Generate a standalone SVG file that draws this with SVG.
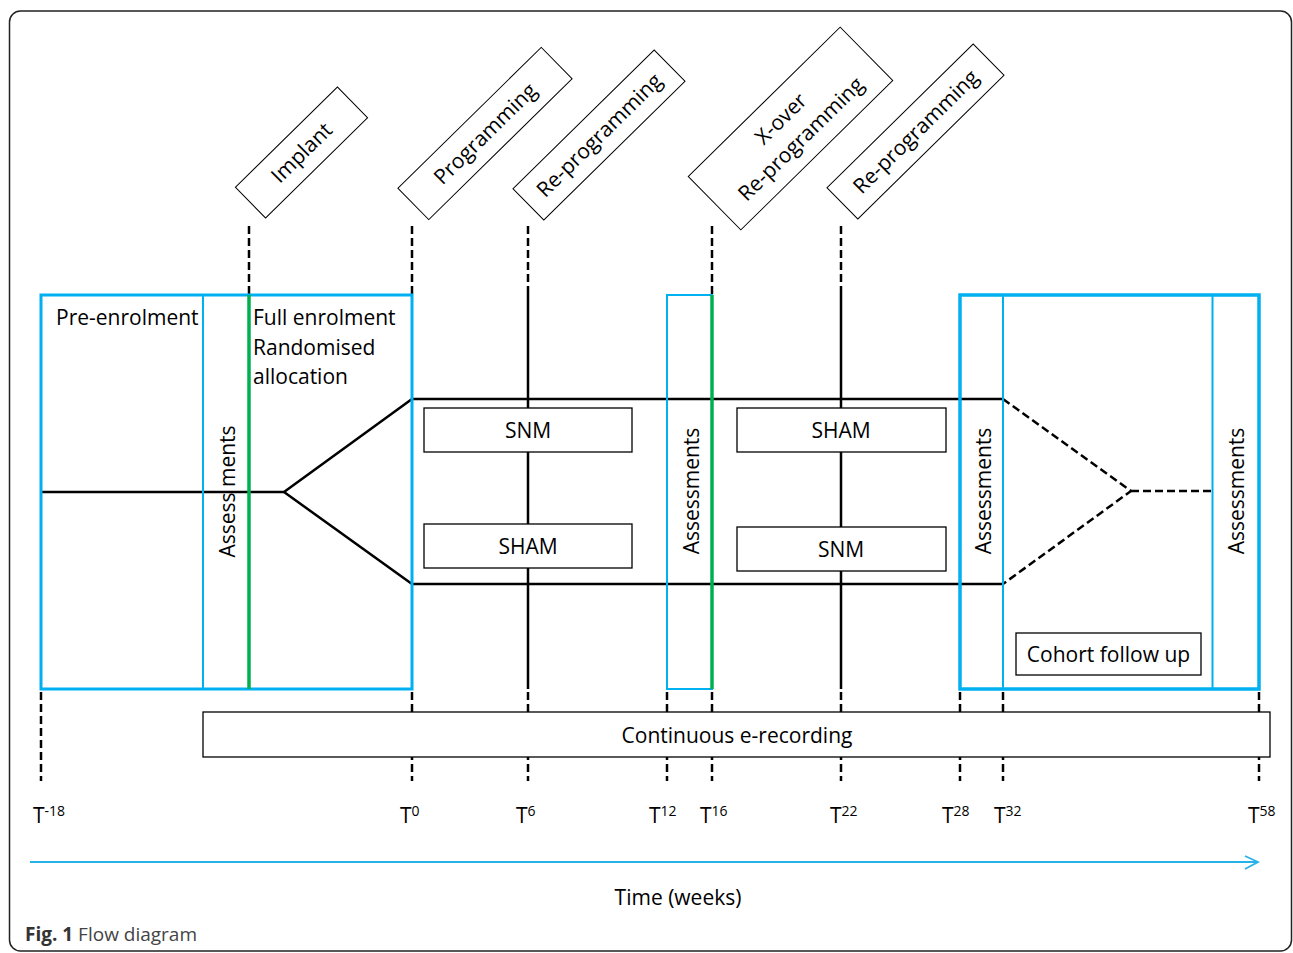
<svg xmlns="http://www.w3.org/2000/svg" width="1293" height="953" viewBox="0 0 1293 953">
<style>
text{font-family:"Open Sans","Liberation Sans",sans-serif;font-size:21px;fill:#000}
.mid{text-anchor:middle}
.dash{stroke:#000;stroke-width:2.5;stroke-dasharray:8 4;fill:none}
.solid{stroke:#000;stroke-width:2.5;fill:none}
.blue{stroke:#00b0f0;fill:none}
.green{stroke:#00b050;stroke-width:3.5}
.box{fill:#fff;stroke:#000;stroke-width:1.3}
.tag{fill:#fff;stroke:#000;stroke-width:1}
.sup{font-size:14px}
</style>
<rect x="9.5" y="11" width="1282" height="940" rx="11" fill="#fff" stroke="#222" stroke-width="1.5"/>
<g id="connectors">
<line class="dash" x1="249" y1="226" x2="249" y2="295"/>
<line class="dash" x1="412" y1="226" x2="412" y2="295"/>
<line class="dash" x1="528" y1="226" x2="528" y2="286"/>
<line class="solid" x1="528" y1="286" x2="528" y2="689"/>
<line class="dash" x1="712" y1="226" x2="712" y2="295"/>
<line class="dash" x1="841" y1="226" x2="841" y2="286"/>
<line class="solid" x1="841" y1="286" x2="841" y2="689"/>
<line class="dash" x1="41" y1="692" x2="41" y2="781"/>
<line class="dash" x1="412" y1="692" x2="412" y2="781"/>
<line class="dash" x1="528" y1="692" x2="528" y2="781"/>
<line class="dash" x1="667" y1="692" x2="667" y2="781"/>
<line class="dash" x1="712" y1="692" x2="712" y2="781"/>
<line class="dash" x1="841" y1="692" x2="841" y2="781"/>
<line class="dash" x1="960" y1="692" x2="960" y2="781"/>
<line class="dash" x1="1003" y1="692" x2="1003" y2="781"/>
<line class="dash" x1="1259" y1="692" x2="1259" y2="781"/>
<polyline class="solid" points="41,492 284,492 412,399 1003,399"/>
<polyline class="solid" points="284,492 412,584 1003,584"/>
<polyline class="dash" points="1003,399 1131,491 1003,584"/>
<line class="dash" x1="1131" y1="491" x2="1212" y2="491"/>
<line x1="30" y1="862" x2="1258" y2="862" stroke="#29b2e8" stroke-width="2"/>
<polyline points="1245,856 1258,862 1245,869" fill="none" stroke="#29b2e8" stroke-width="1.8"/>
</g>
<g id="phase-pre-full">
<rect class="blue" x="41" y="295" width="371" height="394" stroke-width="3"/>
<line class="blue" x1="203" y1="295" x2="203" y2="689" stroke-width="2"/>
<line class="green" x1="249" y1="295" x2="249" y2="689"/>
<text x="56" y="325">Pre-enrolment</text>
<text x="253" y="325">Full enrolment</text>
<text x="253" y="355">Randomised</text>
<text x="253" y="384">allocation</text>
<text class="mid" transform="translate(235,491.5) rotate(-90)">Assess ments</text>
</g>
<g id="assess-mid">
<rect class="blue" x="667" y="295" width="45" height="394" stroke-width="2"/>
<line class="green" x1="712" y1="295" x2="712" y2="689"/>
<text class="mid" transform="translate(699,491) rotate(-90)">Assessments</text>
</g>
<g id="phase-followup">
<rect class="blue" x="960" y="295" width="299" height="394" stroke-width="3.5"/>
<line class="blue" x1="1003" y1="295" x2="1003" y2="689" stroke-width="2"/>
<line class="blue" x1="1212.5" y1="295" x2="1212.5" y2="689" stroke-width="2"/>
<text class="mid" transform="translate(991,491) rotate(-90)">Assessments</text>
<text class="mid" transform="translate(1244,491) rotate(-90)">Assessments</text>
</g>
<g id="snm-1"><rect class="box" x="424" y="408" width="208" height="44"/><text class="mid" x="528" y="438">SNM</text></g>
<g id="sham-1"><rect class="box" x="424" y="524" width="208" height="44"/><text class="mid" x="528" y="554">SHAM</text></g>
<g id="sham-2"><rect class="box" x="737" y="408" width="209" height="44"/><text class="mid" x="841" y="438">SHAM</text></g>
<g id="snm-2"><rect class="box" x="737" y="527" width="209" height="44"/><text class="mid" x="841" y="557">SNM</text></g>
<g id="cohort"><rect class="box" x="1016" y="633" width="185" height="42"/><text class="mid" x="1108.5" y="662">Cohort follow up</text></g>
<g id="erecording"><rect class="box" x="203" y="712" width="1067" height="45"/><text class="mid" x="737" y="743">Continuous e-recording</text></g>
<g id="implant" transform="translate(301.5,152.5) rotate(-44.5)"><rect class="tag" x="-71.5" y="-21.5" width="143" height="43"/><text class="mid" y="7.5">Implant</text></g>
<g id="programming" transform="translate(485,133.5) rotate(-44.5)"><rect class="tag" x="-100.5" y="-22" width="201" height="44"/><text class="mid" y="7.5">Programming</text></g>
<g id="reprogramming-1" transform="translate(599,135) rotate(-44.5)"><rect class="tag" x="-99" y="-22" width="198" height="44"/><text class="mid" y="7.5">Re-programming</text></g>
<g id="xover" transform="translate(790.5,128.5) rotate(-44.5)"><rect class="tag" x="-106.5" y="-37.5" width="213" height="75"/><text class="mid" y="-6.5">X-over</text><text class="mid" y="22">Re-programming</text></g>
<g id="reprogramming-2" transform="translate(915.5,131.5) rotate(-44.5)"><rect class="tag" x="-102.5" y="-22" width="205" height="44"/><text class="mid" y="7.5">Re-programming</text></g>
<g id="time-labels">
<text x="33" y="823">T<tspan class="sup" dy="-7">-18</tspan></text>
<text x="400" y="823">T<tspan class="sup" dy="-7">0</tspan></text>
<text x="516" y="823">T<tspan class="sup" dy="-7">6</tspan></text>
<text x="649" y="823">T<tspan class="sup" dy="-7">12</tspan></text>
<text x="700" y="823">T<tspan class="sup" dy="-7">16</tspan></text>
<text x="830" y="823">T<tspan class="sup" dy="-7">22</tspan></text>
<text x="942" y="823">T<tspan class="sup" dy="-7">28</tspan></text>
<text x="994" y="823">T<tspan class="sup" dy="-7">32</tspan></text>
<text x="1248" y="823">T<tspan class="sup" dy="-7">58</tspan></text>
<text class="mid" x="678" y="905">Time (weeks)</text>
</g>
<text x="25" y="941" style="font-size:19px;fill:#444"><tspan style="font-weight:bold;fill:#333">Fig. 1</tspan> Flow diagram</text>
</svg>
